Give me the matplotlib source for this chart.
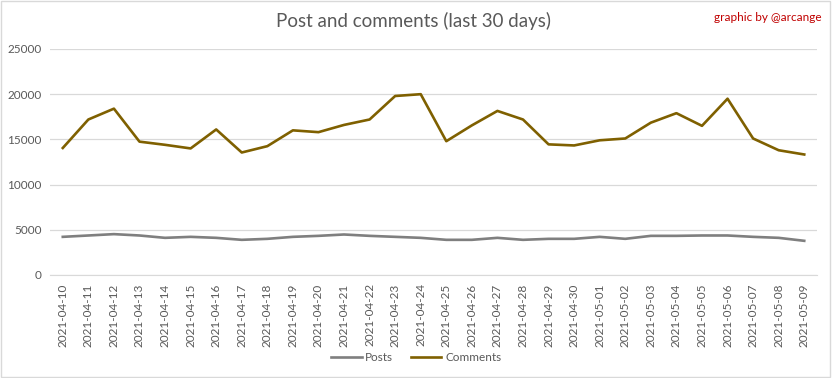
"""Posts and comments over the last 30 days, Excel-like line chart
"""
import matplotlib.pyplot as plt
import matplotlib.patches as mpatches

plt.rcParams['font.family'] = ['Lato', 'DejaVu Sans']

# Data
dates = [
    '2021-04-10', '2021-04-11', '2021-04-12', '2021-04-13', '2021-04-14',
    '2021-04-15', '2021-04-16', '2021-04-17', '2021-04-18', '2021-04-19',
    '2021-04-20', '2021-04-21', '2021-04-22', '2021-04-23', '2021-04-24',
    '2021-04-25', '2021-04-26', '2021-04-27', '2021-04-28', '2021-04-29',
    '2021-04-30', '2021-05-01', '2021-05-02', '2021-05-03', '2021-05-04',
    '2021-05-05', '2021-05-06', '2021-05-07', '2021-05-08', '2021-05-09',
]
posts = [
    4220, 4370, 4520, 4370, 4110, 4220, 4110, 3890, 4000, 4220,
    4330, 4480, 4330, 4220, 4110, 3890, 3890, 4110, 3890, 4000,
    4000, 4220, 4000, 4330, 4330, 4370, 4370, 4220, 4110, 3780,
]
comments = [
    14050, 17200, 18400, 14750, 14400, 14000, 16100, 13550, 14250, 16000,
    15800, 16600, 17200, 19800, 20000, 14800, 16550, 18150, 17200, 14450,
    14330, 14900, 15100, 16850, 17900, 16500, 19500, 15100, 13800, 13330,
]
yticks = [0, 5000, 10000, 15000, 20000, 25000]

text_grey = '#595959'

fig = plt.figure(figsize=(8.32, 3.78), dpi=100)
ax = fig.add_axes([0.0601, 0.2725, 0.9219, 0.5979])

x = list(range(len(dates)))
ax.plot(x, posts, color='#7f7f7f', lw=1.9, label='Posts', solid_joinstyle='round')
ax.plot(x, comments, color='#7f6000', lw=1.9, label='Comments', solid_joinstyle='round')

ax.set_xlim(-0.5, len(dates) - 0.5)
ax.set_ylim(0, 25000)
ax.set_yticks(yticks)
ax.set_yticklabels([str(v) for v in yticks])
ax.set_xticks(x)
ax.set_xticklabels(dates, rotation=90)
ax.tick_params(axis='both', length=0, colors=text_grey, labelsize=8.5)
ax.tick_params(axis='y', pad=6)
ax.tick_params(axis='x', pad=6)

ax.grid(axis='y', color='#d9d9d9', lw=0.9)
ax.set_axisbelow(True)
for side in ['top', 'right', 'left']:
    ax.spines[side].set_visible(False)
ax.spines['bottom'].set_color('#d9d9d9')

fig.text(0.497, 0.945, 'Post and comments (last 30 days)', ha='center', va='center',
         fontsize=13.5, color=text_grey)
fig.text(0.988, 0.955, 'graphic by @arcange', ha='right', va='center',
         fontsize=8.5, color='#c00000')

fig.legend(loc='center', bbox_to_anchor=(0.5, 0.055), ncol=2, frameon=False,
           fontsize=8.5, labelcolor=text_grey, handlelength=2.6, handletextpad=0.3,
           columnspacing=1.5)

# Outer border
fig.patches.append(mpatches.Rectangle((0.001, 0.002), 0.997, 0.995, transform=fig.transFigure,
                                      fill=False, edgecolor='#d9d9d9', lw=1))

fig.savefig('out.png', dpi=100)
